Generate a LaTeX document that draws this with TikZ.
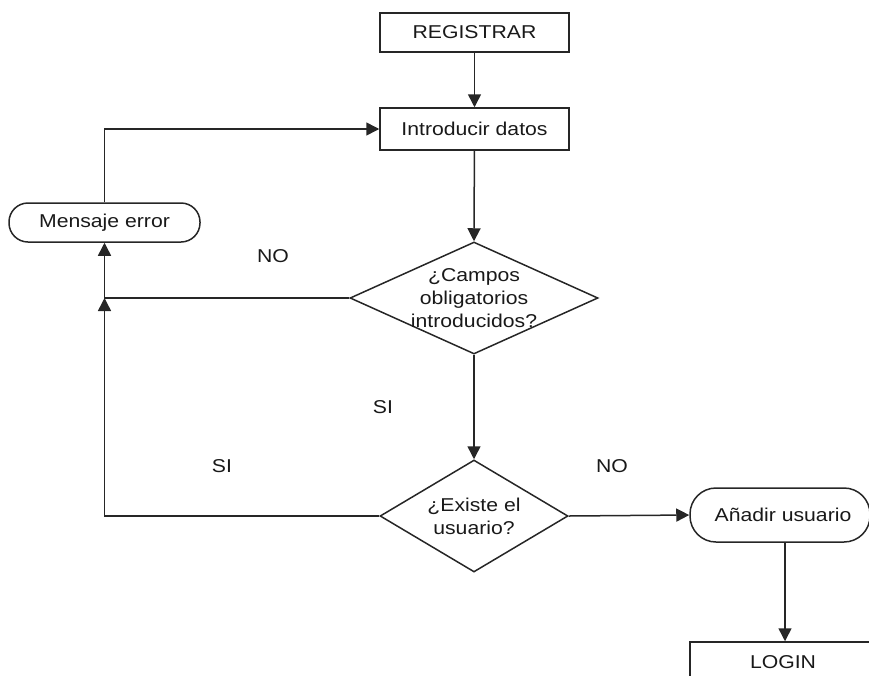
\documentclass[tikz,border=0pt]{standalone}
\usepackage{fontspec}
\setmainfont{Liberation Sans}[FakeStretch=1.14]
\usetikzlibrary{shapes.geometric,arrows.meta}
\begin{document}
\begin{tikzpicture}[x=1pt,y=-1pt,
  every node/.style={font=\fontsize{18.6}{23}\selectfont, text=black!90},
  line/.style={line width=1.5pt, draw=black!85},
  arr/.style={line, -{Triangle[length=13pt,width=13pt]}},
  rectbox/.style={line, draw, rectangle, inner sep=0pt},
  stadium/.style={line, draw, rectangle, rounded corners=19pt, inner sep=0pt},
  dia/.style={line, draw, diamond, inner sep=0pt},
  lbl/.style={inner sep=0pt}]
\useasboundingbox (0,0) rectangle (869,675);
\clip (0,0) rectangle (869,675);

\node[rectbox, minimum width=189, minimum height=39] (reg) at (474.5,32.5) {REGISTRAR};
\node[rectbox, minimum width=189, minimum height=42] (intro) at (474.5,129) {Introducir datos};
\node[stadium, minimum width=191, minimum height=39] (merr) at (104.5,222.5) {Mensaje error};
\node[dia, minimum width=248, minimum height=112,
  label={[align=center, font=\fontsize{18.6}{23}\selectfont, text=black!90]center:¿Campos\\obligatorios\\introducidos?}] (d1) at (474,298) {};
\node[dia, minimum width=188, minimum height=112,
  label={[align=center, font=\fontsize{18.6}{23}\selectfont, text=black!90]center:¿Existe el\\usuario?}] (d2) at (474,516) {};
\node[stadium, rounded corners=26pt, minimum width=180, minimum height=54] (add) at (780,515) {\hspace*{6pt}Añadir usuario};
\node[rectbox, minimum width=190, minimum height=40] (login) at (785,662) {\hspace*{-4pt}LOGIN};

\coordinate (j) at (merr.south |- d1.west);

\node[lbl] (no1) at (273,256) {NO};
\node[lbl] (si1) at (383,407) {SI};
\node[lbl] (si2) at (222,466) {SI};
\node[lbl] (no2) at (612,466) {NO};

\draw[arr] (reg) -- (intro);
\draw[arr] (merr.north) |- (intro.west);
\draw[arr] (intro) -- (d1.north);
\draw[arr] (d1.west) -| (merr.south);
\draw[arr] (d2.west) -| (j);
\draw[arr] (d1.south) -- (d2.north);
\draw[arr] (d2.east) -- (add.west);
\draw[arr] (add.south -| login.north) -- (login.north);
\end{tikzpicture}
\end{document}
